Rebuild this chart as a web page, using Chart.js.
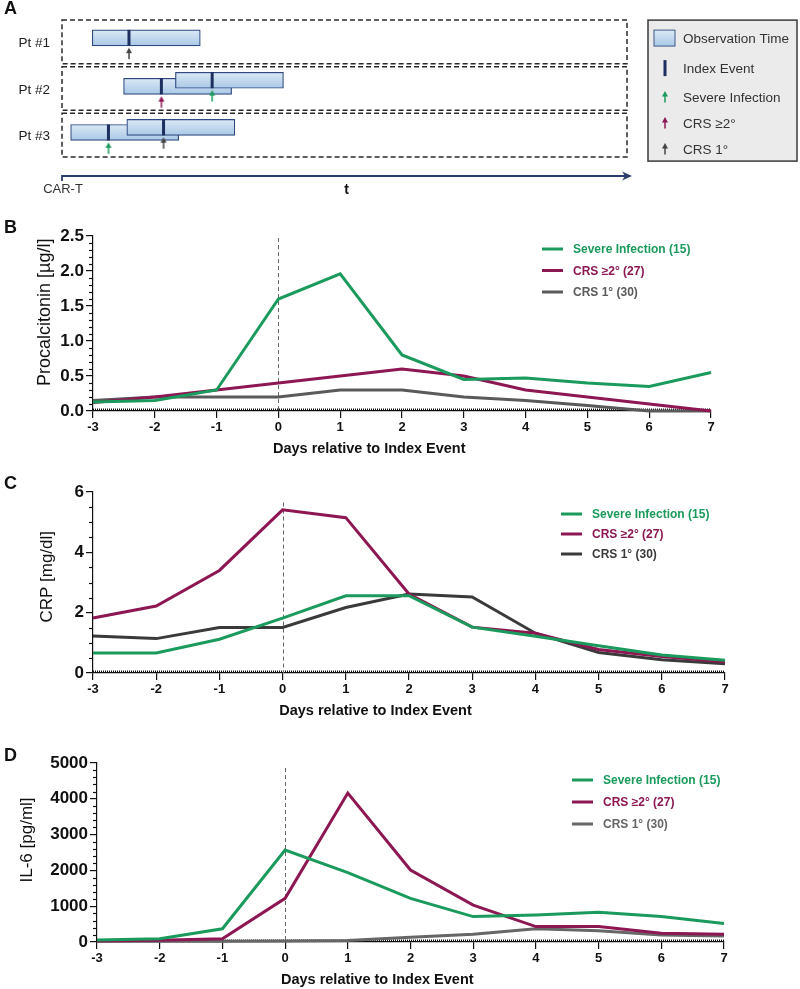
<!DOCTYPE html>
<html>
<head>
<meta charset="utf-8">
<script src="https://cdn.jsdelivr.net/npm/chart.js@4.4.1/dist/chart.umd.min.js"></script>
<style>
  body { margin: 0; background: #fff; }
  #page { position: relative; width: 800px; height: 989px; background: #fff; }
  #page canvas { position: absolute; left: 0; }
  .panel { position: absolute; left: 4px; font: bold 18px Arial, "Liberation Sans", sans-serif; line-height: 20px; color: #111; }
</style>
</head>
<body>
<div id="page">
  <canvas id="chartA" width="800" height="200" style="top:0"></canvas>
  <canvas id="chartB" width="800" height="270" style="top:200px"></canvas>
  <canvas id="chartC" width="800" height="255" style="top:470px"></canvas>
  <canvas id="chartD" width="800" height="264" style="top:725px"></canvas>
  <div class="panel" style="top:-2px">A</div>
  <div class="panel" style="top:217px">B</div>
  <div class="panel" style="top:473px">C</div>
  <div class="panel" style="top:745px">D</div>
</div>
<script>
// ---- panel A: schematic (time in arbitrary days after CAR-T) ----
const rowNames = ['Pt #1', 'Pt #2', 'Pt #3'];
const obsRow = [0.88, 1.92, 1.79, 2.91, 2.80];
const obsStart = [2.8, 5.7, 10.5, 0.8, 6.0];
const obsEnd = [12.8, 15.7, 20.5, 10.8, 16.0];
const indexDay = [6.2, 9.2, 13.9, 4.3, 9.4];
const indexType = ['CRS 1°', 'CRS ≥2°', 'Severe Infection', 'Severe Infection', 'CRS 1°'];
const timelineEnd = 52.3;
const keyA = ['Observation Time', 'Index Event', 'Severe Infection', 'CRS ≥2°', 'CRS 1°'];

// ---- panels B-D ----
const days = [-3, -2, -1, 0, 1, 2, 3, 4, 5, 6, 7];
const groupNames = ['Severe Infection (15)', 'CRS ≥2° (27)', 'CRS 1° (30)'];

const pctInfection = [0.13, 0.15, 0.30, 1.60, 1.96, 0.80, 0.45, 0.47, 0.40, 0.35, 0.55];
const pctCrs2 = [0.12, 0.20, 0.30, 0.40, 0.50, 0.60, 0.50, 0.30, 0.20, 0.10, 0.00];
const pctCrs1 = [0.15, 0.20, 0.20, 0.20, 0.30, 0.30, 0.20, 0.15, 0.08, 0.00, 0.00];
const pctTicks = [0, 0.5, 1, 1.5, 2, 2.5];

const crpInfection = [0.66, 0.66, 1.12, 1.82, 2.56, 2.56, 1.52, 1.22, 0.90, 0.60, 0.42];
const crpCrs2 = [1.82, 2.22, 3.40, 5.41, 5.15, 2.62, 1.52, 1.32, 0.78, 0.55, 0.37];
const crpCrs1 = [1.23, 1.14, 1.51, 1.51, 2.17, 2.62, 2.52, 1.32, 0.68, 0.44, 0.31];
const crpTicks = [0, 2, 4, 6];

const il6Infection = [55, 90, 370, 2570, 1940, 1220, 710, 755, 830, 710, 520];
const il6Crs2 = [30, 50, 90, 1220, 4160, 2010, 1030, 430, 430, 245, 215];
const il6Crs1 = [20, 20, 20, 30, 40, 130, 215, 370, 315, 195, 165];
const il6Ticks = [0, 1000, 2000, 3000, 4000, 5000];

const GREEN = '#1a9a5c';
const MAGENTA = '#8c1752';
const NAVY = '#1c2f5e';
const FONT = 'Arial, "Liberation Sans", sans-serif';
const eventColor = { 'Severe Infection': GREEN, 'CRS ≥2°': MAGENTA, 'CRS 1°': '#444' };

function drawArrow(ctx, cx, cy, color) {
  ctx.save();
  ctx.strokeStyle = color;
  ctx.fillStyle = color;
  ctx.lineWidth = 1.5;
  ctx.beginPath();
  ctx.moveTo(cx, cy + 5.5);
  ctx.lineTo(cx, cy - 1);
  ctx.stroke();
  ctx.beginPath();
  ctx.moveTo(cx, cy - 6);
  ctx.lineTo(cx - 3, cy - 0.5);
  ctx.lineTo(cx + 3, cy - 0.5);
  ctx.closePath();
  ctx.fill();
  ctx.restore();
}

function arrowImage(color) {
  const c = document.createElement('canvas');
  c.width = 8;
  c.height = 13;
  drawArrow(c.getContext('2d'), 4, 6.5, color);
  return c;
}
const arrowImgs = {};
Object.keys(eventColor).forEach(k => { arrowImgs[k] = arrowImage(eventColor[k]); });

function barFill(ctx, top, h) {
  if (!isFinite(top)) return '#c0d8ee';
  const g = ctx.createLinearGradient(0, top, 0, top + h);
  g.addColorStop(0, '#dbe9f6');
  g.addColorStop(1, '#a9c8e6');
  return g;
}

const schemePlugin = {
  id: 'scheme',
  beforeDatasetsDraw(chart) {
    const { ctx, scales: { x, y } } = chart;
    ctx.save();
    ctx.strokeStyle = '#2a2a2a';
    ctx.lineWidth = 1.5;
    ctx.setLineDash([5, 3]);
    rowNames.forEach((n, i) => {
      const r = i + 1;
      const top = y.getPixelForValue(r - 0.5);
      const bot = y.getPixelForValue(r + 0.5) - 3;
      const l = x.getPixelForValue(0), rr = x.getPixelForValue(timelineEnd);
      ctx.strokeRect(l, top, rr - l, bot - top);
    });
    ctx.restore();
  },
  afterDraw(chart) {
    const { ctx, chartArea: a, scales: { x } } = chart;
    ctx.save();
    // time axis
    const ty = a.bottom + 16;
    const x0 = x.getPixelForValue(0), x1 = x.getPixelForValue(timelineEnd);
    ctx.strokeStyle = '#2a3d6e';
    ctx.fillStyle = '#2a3d6e';
    ctx.lineWidth = 1.8;
    ctx.beginPath();
    ctx.moveTo(x0, ty + 5);
    ctx.lineTo(x0, ty);
    ctx.lineTo(x1, ty);
    ctx.stroke();
    ctx.beginPath();
    ctx.moveTo(x1 + 5, ty);
    ctx.lineTo(x1 - 5, ty - 4.5);
    ctx.lineTo(x1 - 2, ty);
    ctx.lineTo(x1 - 5, ty + 4.5);
    ctx.closePath();
    ctx.fill();
    ctx.fillStyle = '#333';
    ctx.font = '13px ' + FONT;
    ctx.textAlign = 'center';
    ctx.textBaseline = 'middle';
    ctx.fillText('CAR-T', x0 + 1, ty + 13);
    ctx.font = 'bold 14px ' + FONT;
    ctx.fillStyle = '#111';
    ctx.fillText('t', (x0 + x1) / 2 + 2, ty + 14);

    // key box
    const bx = a.right + 21, by = a.top, bw = 149, bh = 141;
    ctx.fillStyle = '#ebebeb';
    ctx.fillRect(bx, by, bw, bh);
    ctx.strokeStyle = '#3a3a3a';
    ctx.lineWidth = 1.5;
    ctx.strokeRect(bx, by, bw, bh);
    const rowsY = [18, 48, 77, 103, 129];
    keyA.forEach((label, i) => {
      const cy = by + rowsY[i];
      if (i === 0) {
        ctx.fillStyle = barFill(ctx, cy - 8, 16);
        ctx.fillRect(bx + 6, cy - 8, 21, 16);
        ctx.strokeStyle = '#3c5a8a';
        ctx.lineWidth = 1;
        ctx.strokeRect(bx + 6, cy - 8, 21, 16);
      } else if (i === 1) {
        ctx.fillStyle = NAVY;
        ctx.fillRect(bx + 15.5, cy - 8, 3, 16);
      } else {
        drawArrow(ctx, bx + 17, cy, eventColor[label]);
      }
      ctx.fillStyle = '#333';
      ctx.font = '13.5px ' + FONT;
      ctx.textAlign = 'left';
      ctx.textBaseline = 'middle';
      ctx.fillText(label, bx + 35, cy + 1);
    });
    ctx.restore();
  }
};

new Chart(document.getElementById('chartA'), {
  type: 'scatter',
  data: {
    datasets: [
      {
        type: 'scatter',
        order: 1,
        data: indexDay.map((d, i) => ({ x: d, y: obsRow[i] + 0.34 })),
        pointStyle: c => arrowImgs[indexType[c.dataIndex]] || 'circle',
        pointRadius: 5
      },
      {
        type: 'scatter',
        order: 2,
        data: indexDay.map((d, i) => ({ x: d, y: obsRow[i] })),
        pointStyle: 'line',
        rotation: 90,
        pointRadius: 8,
        borderWidth: 3,
        borderColor: NAVY,
        backgroundColor: NAVY
      },
      {
        type: 'bar',
        order: 3,
        indexAxis: 'y',
        data: obsStart.map((s, i) => ({ x: [s, obsEnd[i]], y: obsRow[i] })),
        barThickness: 16,
        borderSkipped: false,
        borderWidth: 1.2,
        borderColor: '#2e4a7e',
        backgroundColor: c => {
          const ys = c.chart.scales.y;
          if (!ys || !c.raw || ys.bottom == null) return '#c0d8ee';
          const py = ys.getPixelForValue(c.raw.y);
          return barFill(c.chart.ctx, py - 8, 16);
        }
      }
    ]
  },
  options: {
    responsive: false,
    animation: false,
    events: [],
    layout: { padding: { left: 0, top: 18, right: 173, bottom: 40 } },
    plugins: { legend: { display: false }, tooltip: { enabled: false } },
    scales: {
      x: { type: 'linear', display: false, min: 0, max: timelineEnd, offset: false },
      y: {
        type: 'linear', min: 0.5, max: 3.5, reverse: true, offset: false,
        afterBuildTicks: ax => { ax.ticks = rowNames.map((n, i) => ({ value: i + 1 })); },
        afterFit: ax => { ax.width = 62; },
        grid: { display: false, drawTicks: false },
        border: { display: false },
        ticks: {
          callback: v => rowNames[v - 1],
          color: '#222',
          padding: 12,
          font: { family: FONT, size: 13.5 }
        }
      }
    }
  },
  plugins: [schemePlugin]
});

function decorPlugin(cfg) {
  return {
    id: 'decor',
    beforeDatasetsDraw(chart) {
      const { ctx, chartArea: a, scales: { x, y } } = chart;
      ctx.save();
      ctx.strokeStyle = '#111';
      ctx.lineWidth = 1.2;
      const n = Math.round(cfg.yMax / cfg.yMinor);
      for (let i = 1; i < n; i++) {
        const v = i * cfg.yMinor;
        if (cfg.yTicks.some(t => Math.abs(t - v) < 1e-6)) continue;
        const py = Math.round(y.getPixelForValue(v)) + 0.5;
        ctx.beginPath();
        ctx.moveTo(a.left - 4, py);
        ctx.lineTo(a.left, py);
        ctx.stroke();
      }
      ctx.setLineDash([1, 1]);
      ctx.lineWidth = 2;
      ctx.beginPath();
      ctx.moveTo(a.left, a.bottom - 1.5);
      ctx.lineTo(a.right, a.bottom - 1.5);
      ctx.stroke();
      ctx.setLineDash([4, 3]);
      ctx.lineWidth = 1;
      ctx.strokeStyle = '#666';
      const px = Math.round(x.getPixelForValue(0)) + 0.5;
      ctx.beginPath();
      ctx.moveTo(px, y.getPixelForValue(cfg.dashTop));
      ctx.lineTo(px, a.bottom);
      ctx.stroke();
      ctx.restore();
    },
    afterDraw(chart) {
      const { ctx, chartArea: a, scales: { x, y } } = chart;
      ctx.save();
      ctx.fillStyle = '#111';
      ctx.textAlign = 'center';
      ctx.textBaseline = 'middle';
      ctx.font = 'bold 14.5px ' + FONT;
      ctx.fillText('Days relative to Index Event', x.getPixelForValue(1.47), a.bottom + 38);
      ctx.save();
      ctx.translate(cfg.yTitleX, y.getPixelForValue(cfg.yTitleAt));
      ctx.rotate(-Math.PI / 2);
      ctx.font = cfg.yTitleSize + 'px ' + FONT;
      ctx.fillText(cfg.yTitle, 0, 0);
      ctx.restore();
      // legend
      const L = cfg.legend;
      ctx.textAlign = 'left';
      ctx.font = 'bold 12px ' + FONT;
      chart.data.datasets.forEach((ds, i) => {
        const ly = L.y + i * L.gap;
        ctx.strokeStyle = ds.borderColor;
        ctx.lineWidth = 3;
        ctx.beginPath();
        ctx.moveTo(L.x, ly);
        ctx.lineTo(L.x + 21, ly);
        ctx.stroke();
        ctx.fillStyle = ds.borderColor;
        ctx.fillText(ds.label, L.x + 31, ly + 1);
      });
      ctx.restore();
    }
  };
}

function lineChart(id, cfg) {
  const axisGrid = { drawOnChartArea: false, drawTicks: true, tickLength: 7, color: '#111', lineWidth: 1.2 };
  const axisBorder = { display: true, color: '#111', width: 1.2 };
  return new Chart(document.getElementById(id), {
    type: 'line',
    data: {
      datasets: cfg.series.map((s, i) => ({
        label: groupNames[i],
        data: days.map((d, j) => ({ x: d, y: s[j] })),
        borderColor: cfg.colors[i],
        borderWidth: 3,
        pointRadius: 0,
        tension: 0,
        clip: false
      }))
    },
    options: {
      responsive: false,
      animation: false,
      events: [],
      layout: { padding: cfg.pad },
      plugins: { legend: { display: false }, tooltip: { enabled: false } },
      scales: {
        x: {
          type: 'linear', min: -3, max: 7,
          afterBuildTicks: ax => { ax.ticks = days.map(v => ({ value: v })); },
          afterFit: ax => { ax.height = 30; },
          grid: axisGrid,
          border: axisBorder,
          ticks: { color: '#111', padding: 2, maxRotation: 0, autoSkip: false, font: { family: FONT, size: 13, weight: 'bold' } }
        },
        y: {
          type: 'linear', min: 0, max: cfg.yMax,
          afterBuildTicks: ax => { ax.ticks = cfg.yTicks.map(v => ({ value: v })); },
          afterFit: ax => { ax.width = cfg.yWidth; },
          grid: axisGrid,
          border: axisBorder,
          ticks: { color: '#111', padding: 2, callback: cfg.yFormat, font: { family: FONT, size: 17, weight: 'bold' } }
        }
      }
    },
    plugins: [decorPlugin(cfg)]
  });
}

lineChart('chartB', {
  series: [pctInfection, pctCrs2, pctCrs1],
  colors: [GREEN, MAGENTA, '#5a5a5a'],
  yMax: 2.5, yTicks: pctTicks, yMinor: 0.1, yFormat: v => v.toFixed(1),
  yWidth: 93, pad: { left: 0, top: 36, right: 89, bottom: 29 },
  yTitle: 'Procalcitonin [µg/l]', yTitleSize: 18, yTitleX: 45.5, yTitleAt: 1.41,
  dashTop: 2.47,
  legend: { x: 542, y: 49, gap: 21.5 }
});

lineChart('chartC', {
  series: [crpInfection, crpCrs2, crpCrs1],
  colors: [GREEN, MAGENTA, '#3a3a3a'],
  yMax: 6, yTicks: crpTicks, yMinor: 0.5, yFormat: v => String(v),
  yWidth: 93, pad: { left: 0, top: 22, right: 75, bottom: 22 },
  yTitle: 'CRP [mg/dl]', yTitleSize: 17, yTitleX: 47, yTitleAt: 3.19,
  dashTop: 5.65,
  legend: { x: 561, y: 44, gap: 20 }
});

lineChart('chartD', {
  series: [il6Infection, il6Crs2, il6Crs1],
  colors: [GREEN, MAGENTA, '#666666'],
  yMax: 5000, yTicks: il6Ticks, yMinor: 200, yFormat: v => String(v),
  yWidth: 97, pad: { left: 0, top: 38, right: 76, bottom: 17 },
  yTitle: 'IL-6 [pg/ml]', yTitleSize: 17, yTitleX: 27.5, yTitleAt: 2850,
  dashTop: 4860,
  legend: { x: 572, y: 55, gap: 22 }
});
</script>
</body>
</html>
